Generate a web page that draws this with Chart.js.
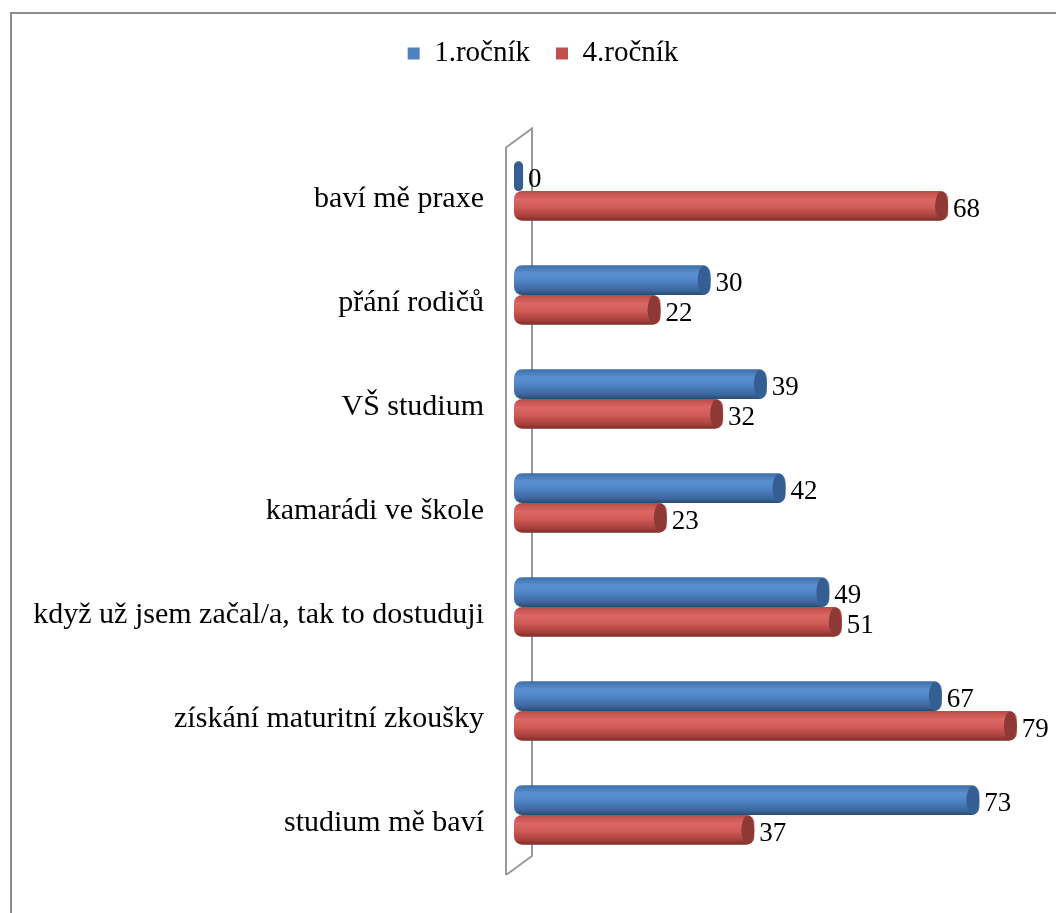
<!DOCTYPE html>
<html>
<head>
<meta charset="utf-8">
<script src="https://cdn.jsdelivr.net/npm/chart.js@4.4.1/dist/chart.umd.min.js"></script>
<style>
  html, body { margin: 0; padding: 0; background: #ffffff; }
  #wrap { position: relative; width: 1056px; height: 913px; overflow: hidden; }
  #frame { position: absolute; left: 10px; top: 12px; width: 1200px; height: 1200px;
           border-left: 2px solid #8c8c8c; border-top: 2px solid #8c8c8c; box-sizing: border-box; }
  canvas { position: absolute; left: 0; top: 0; }
</style>
</head>
<body>
<div id="wrap">
  <div id="frame"></div>
  <canvas id="c" width="1056" height="913"></canvas>
</div>
<script>
const categories = [
  'baví mě praxe',
  'přání rodičů',
  'VŠ studium',
  'kamarádi ve škole',
  'když už jsem začal/a, tak to dostuduji',
  'získání maturitní zkoušky',
  'studium mě baví'
];
const seriesNames = ['1.ročník', '4.ročník'];
const values1 = [0, 30, 39, 42, 49, 67, 73];
const values4 = [68, 22, 32, 23, 51, 79, 37];

const FONT = "'Liberation Serif', 'Times New Roman', serif";
const CAT_PCT = 0.57;
const BASE_VAL = -1.45;
const LEGEND_SHIFT = 18;

const palettes = [
  { solid: '#4f81bd', cap: '#355f92', zero: '#2f5a8c',
    stops: [[0, '#3d6ea6'], [0.28, '#5b90d3'], [0.55, '#4d82c3'], [0.85, '#3a669d'], [1, '#2b4b74']] },
  { solid: '#c0504d', cap: '#8e3936', zero: '#8e3936',
    stops: [[0, '#b94a46'], [0.28, '#dc6764'], [0.55, '#d05a56'], [0.85, '#a8403d'], [1, '#7a2d2b']] }
];

function barFill(ctx) {
  const chart = ctx.chart;
  const pal = palettes[ctx.datasetIndex];
  const v = ctx.raw;
  if (v === 0) return pal.zero;
  const ys = chart.scales.y;
  if (!ys || !chart.chartArea) return pal.solid;
  const center = ys.getPixelForValue(ctx.dataIndex);
  const step = Math.abs(ys.getPixelForValue(1) - ys.getPixelForValue(0)) || 100;
  const size = step * CAT_PCT / 2;
  const bc = center + (ctx.datasetIndex - 0.5) * size;
  const g = chart.ctx.createLinearGradient(0, bc - size / 2, 0, bc + size / 2);
  pal.stops.forEach(s => g.addColorStop(s[0], s[1]));
  return g;
}

const legendShift = {
  id: 'legendShift',
  afterLayout(chart) {
    if (chart.legend) {
      chart.legend.left += LEGEND_SHIFT;
      chart.legend.right += LEGEND_SHIFT;
    }
  }
};

const wallPlugin = {
  id: 'wall',
  beforeDatasetsDraw(chart) {
    const { ctx, chartArea } = chart;
    const x0 = chartArea.left;
    const lx = x0 - 8, rx = x0 + 18;
    const top = chartArea.top, bot = chartArea.bottom;
    ctx.save();
    ctx.strokeStyle = '#9a9a9a';
    ctx.lineWidth = 2;
    ctx.beginPath();
    ctx.moveTo(lx, bot + 8);
    ctx.lineTo(lx, top + 8.5);
    ctx.lineTo(rx, top - 10.5);
    ctx.lineTo(rx, bot - 11);
    ctx.lineTo(lx, bot + 8);
    ctx.stroke();
    ctx.restore();
  }
};

const capsAndLabels = {
  id: 'capsAndLabels',
  afterDatasetsDraw(chart) {
    const { ctx } = chart;
    ctx.save();
    chart.data.datasets.forEach((ds, di) => {
      const meta = chart.getDatasetMeta(di);
      const pal = palettes[di];
      meta.data.forEach((el, i) => {
        const len = el.x - el.base;
        const h = el.height;
        const rx = Math.min(6.5, len / 2);
        ctx.fillStyle = pal.cap;
        ctx.beginPath();
        ctx.ellipse(el.x - rx, el.y, rx, h / 2 - 0.5, 0, 0, Math.PI * 2);
        ctx.fill();
        ctx.fillStyle = '#000000';
        ctx.font = '27px ' + FONT;
        ctx.textAlign = 'left';
        ctx.textBaseline = 'middle';
        ctx.fillText(String(ds.data[i]), el.x + 5, el.y + 4);
      });
    });
    ctx.restore();
  }
};

new Chart(document.getElementById('c'), {
  type: 'bar',
  data: {
    labels: categories,
    datasets: [
      { label: seriesNames[0], data: values1, base: BASE_VAL, backgroundColor: barFill,
        borderWidth: 0, borderRadius: 8, borderSkipped: false,
        categoryPercentage: CAT_PCT, barPercentage: 1 },
      { label: seriesNames[1], data: values4, base: BASE_VAL, backgroundColor: barFill,
        borderWidth: 0, borderRadius: 8, borderSkipped: false,
        categoryPercentage: CAT_PCT, barPercentage: 1 }
    ]
  },
  options: {
    indexAxis: 'y',
    responsive: false,
    animation: false,
    layout: { padding: { top: 13, bottom: 46, left: 0, right: 6 } },
    plugins: {
      tooltip: { enabled: false },
      title: { display: false },
      subtitle: { display: true, text: '', weight: 500, padding: 24.5, font: { size: 10 } },
      legend: {
        position: 'top',
        labels: {
          boxWidth: 12, boxHeight: 12, padding: 26, color: '#000000',
          font: { family: FONT, size: 29 },
          generateLabels: (chart) => chart.data.datasets.map((ds, i) => ({
            text: ds.label, fillStyle: palettes[i].solid, strokeStyle: palettes[i].solid,
            lineWidth: 0, hidden: false, datasetIndex: i
          }))
        }
      }
    },
    scales: {
      x: { display: false, min: BASE_VAL, max: 84.3 },
      y: {
        grid: { display: false },
        border: { display: false },
        ticks: { color: '#000000', font: { family: FONT, size: 30 }, padding: 22, labelOffset: 8.5 },
        afterFit: (s) => { s.width = 514; s.paddingTop = 0; s.paddingBottom = 0; }
      }
    }
  },
  plugins: [legendShift, wallPlugin, capsAndLabels]
});
</script>
</body>
</html>
